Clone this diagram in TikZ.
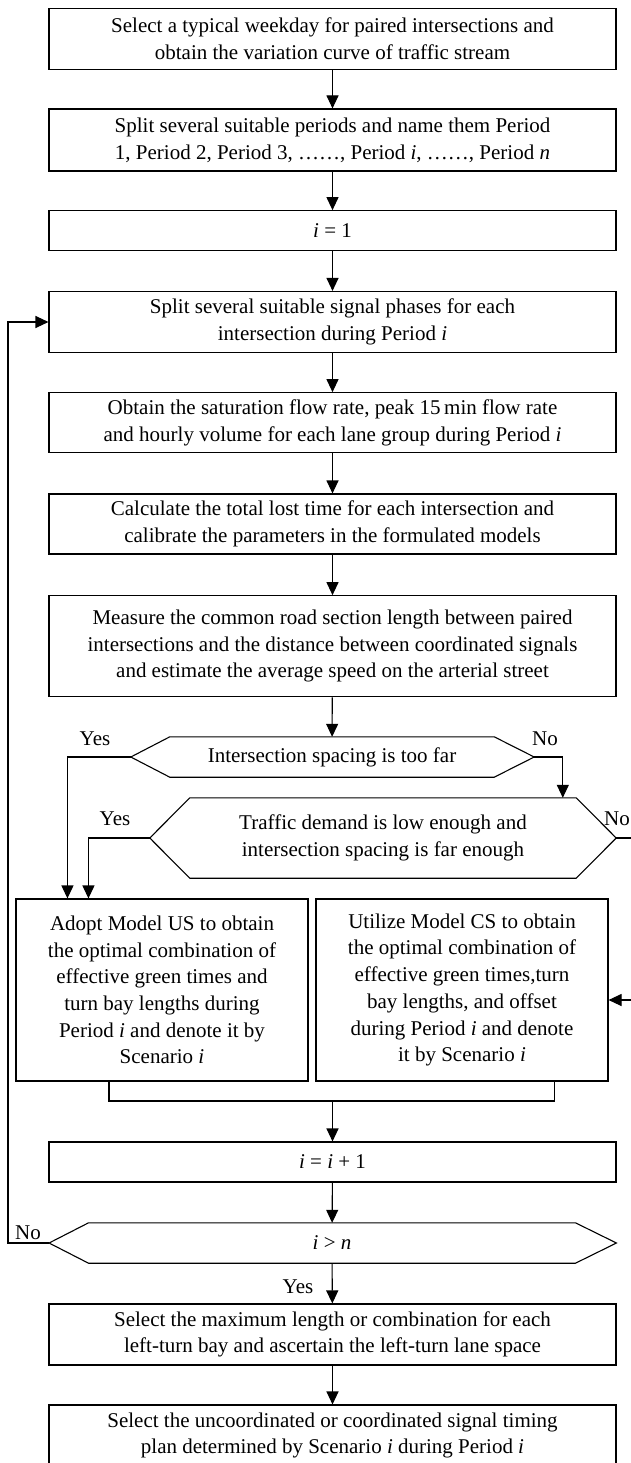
\documentclass[tikz,border=0pt]{standalone}
\usepackage{fontspec}
\setmainfont{Liberation Serif}
\usetikzlibrary{arrows.meta,calc}
\begin{document}
\begin{tikzpicture}[x=1pt,y=-1pt,
  font=\fontsize{21}{26.7}\selectfont,
  stepbox/.style={draw, line width=1.1pt, align=center, inner sep=0pt, minimum width=567pt},
  sidebox/.style={draw, line width=1.1pt, align=center, inner sep=0pt, minimum width=292pt, minimum height=182pt},
  hexbody/.style={inner sep=0pt, align=center},
  hexline/.style={line width=1.1pt, line join=miter},
  conn/.style={line width=1.1pt},
  arr/.style={line width=1.1pt, -{Triangle[length=13pt,width=12pt]}},
  lab/.style={inner sep=0pt}]
\useasboundingbox (0,0) rectangle (631,1463);
\clip (0,0) rectangle (631,1463);
\fill[white] (0,0) rectangle (631,1463);

% main boxes
\node[stepbox, minimum height=61pt] (b1) at (332.5,38.7) {Select a typical weekday for paired intersections and\\obtain the variation curve of traffic stream};
\node[stepbox, minimum height=62pt] (b2) at (332.5,140) {Split several suitable periods and name them Period\\1, Period 2, Period 3, ……, Period \textit{i}, ……, Period \textit{n}};
\node[stepbox, minimum height=40pt] (b3) at (332.5,230.7) {\textit{i} = 1};
\node[stepbox, minimum height=61pt] (b4) at (332.5,322) {Split several suitable signal phases for each\\intersection during Period \textit{i}};
\node[stepbox, minimum height=60pt] (b5) at (332.5,422.7) {Obtain the saturation flow rate, peak 15\,min flow rate\\and hourly volume for each lane group during Period \textit{i}};
\node[stepbox, minimum height=60pt] (b6) at (332.5,524) {Calculate the total lost time for each intersection and\\calibrate the parameters in the formulated models};
\node[stepbox, minimum height=101pt] (b7) at (332.5,646.2) {Measure the common road section length between paired\\intersections and the distance between coordinated signals\\and estimate the average speed on the arterial street};

% decision 1
\node[hexbody, minimum width=324pt, minimum height=40pt] (h1) at (332,757) {Intersection spacing is too far};
\coordinate (h1L) at ($(h1.west)+(-39,0)$);
\coordinate (h1R) at ($(h1.east)+(40,0)$);
\draw[hexline] (h1L) -- (h1.north west) -- (h1.north east) -- (h1R) -- (h1.south east) -- (h1.south west) -- cycle;

% decision 2
\node[hexbody, minimum width=386pt, minimum height=80pt] (h2) at (383,838) {Traffic demand is low enough and\\intersection spacing is far enough};
\coordinate (h2L) at ($(h2.west)+(-40,0)$);
\coordinate (h2R) at ($(h2.east)+(40,0)$);
\draw[hexline] (h2L) -- (h2.north west) -- (h2.north east) -- (h2R) -- (h2.south east) -- (h2.south west) -- cycle;

% side boxes
\node[sidebox] (us) at (162,990) {Adopt Model US to obtain\\the optimal combination of\\effective green times and\\turn bay lengths during\\Period \textit{i} and denote it by\\Scenario \textit{i}};
\node[sidebox] (cs) at (462,990) {Utilize Model CS to obtain\\the optimal combination of\\effective green times,turn\\bay lengths, and offset\\during Period \textit{i} and denote\\it by Scenario \textit{i}};

\node[stepbox, minimum height=40pt] (b8) at (332.5,1162) {\textit{i} = \textit{i} + 1};

% decision 3
\node[hexbody, minimum width=486.5pt, minimum height=40pt] (h3) at (332,1243) {\textit{i} > \textit{n}};
\coordinate (h3L) at ($(h3.west)+(-39.5,0)$);
\coordinate (h3R) at ($(h3.east)+(41,0)$);
\draw[hexline] (h3L) -- (h3.north west) -- (h3.north east) -- (h3R) -- (h3.south east) -- (h3.south west) -- cycle;

\node[stepbox, minimum height=61pt] (b9) at (332.5,1334.5) {Select the maximum length or combination for each\\left-turn bay and ascertain the left-turn lane space};
\node[stepbox, minimum height=61pt] (b10) at (332.5,1435.5) {Select the uncoordinated or coordinated signal timing\\plan determined by Scenario \textit{i} during Period \textit{i}};

% straight arrows
\draw[arr] (b1) -- (b2);
\draw[arr] (b2) -- (b3);
\draw[arr] (b3) -- (b4);
\draw[arr] (b4) -- (b5);
\draw[arr] (b5) -- (b6);
\draw[arr] (b6) -- (b7);
\draw[arr] (b7) -- (h1);

% helper coordinates
\coordinate (usA) at ($(us.north west)+(52,0)$);
\coordinate (usB) at ($(us.north west)+(73,0)$);
\coordinate (h2in) at ($(h2.north west)+(373,0)$);
\coordinate (csin) at ($(cs.east)+(0,10)$);
\coordinate (far) at (645,838);
\coordinate (usOut) at ($(us.south west)+(93.5,0)$);
\coordinate (csOut) at ($(cs.south west)+(239,0)$);
\coordinate (merge) at (332.5,1101);
\coordinate (loopX) at (8,1243);

% decision branches
\draw[arr] (h1L) -| (usA);
\draw[arr] (h1R) -| (h2in);
\draw[arr] (h2L) -| (usB);
\draw[arr] (h2R) -- (far) |- (csin);

% merge
\draw[conn] (usOut) |- (merge) -| (csOut);
\draw[arr] (merge) -- (b8);
\draw[arr] (b8) -- (h3);
\draw[arr] (h3L) -- (loopX) |- (b4.west);
\draw[arr] (h3) -- (b9);
\draw[arr] (b9) -- (b10);

% labels
\node[lab] (l1) at (95,739) {Yes};
\node[lab] (l2) at (545,739) {No};
\node[lab] (l3) at (115,819) {Yes};
\node[lab] (l4) at (617,819) {No};
\node[lab] (l5) at (28,1233) {No};
\node[lab] (l6) at (298,1287) {Yes};
\end{tikzpicture}
\end{document}
